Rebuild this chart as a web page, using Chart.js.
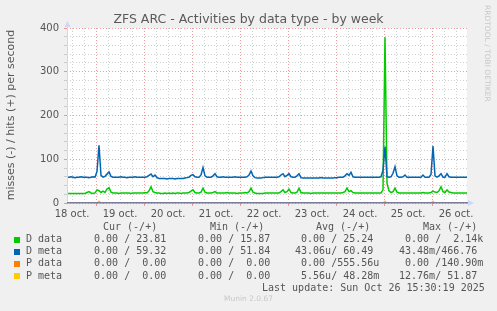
<!DOCTYPE html>
<html>
<head>
<meta charset="utf-8">
<title>ZFS ARC - Activities by data type - by week</title>
<script src="https://cdn.jsdelivr.net/npm/chart.js@4.4.1/dist/chart.umd.min.js"></script>
<style>
  html, body { margin: 0; padding: 0; background: #f0f0f0; }
  #wrap { position: relative; width: 497px; height: 311px; }
</style>
</head>
<body>
<div id="wrap"><canvas id="chart" width="497" height="311"></canvas></div>
<script>
// Day labels on the x axis (one label per day, placed at noon)
const dayLabels = ["18 oct.", "19 oct.", "20 oct.", "21 oct.", "22 oct.", "23 oct.", "24 oct.", "25 oct.", "26 oct."];

// Hits per second, one value per hour from the left edge of the plot
const dDataHits = [
  22,22,22,22,22,22,22,22,22,22,24,26,23,22,23,30,28,24,27,24,32,35,25,23,
  23,23,22,23,23,23,23,23,22,23,23,23,23,23,23,24,23,28,37,26,24,23,23,22,
  22,23,22,23,22,23,22,23,23,22,23,23,23,24,27,30,24,23,23,25,34,25,23,23,
  23,24,26,23,23,23,23,23,24,23,23,23,23,22,23,23,23,24,23,26,34,25,23,22,
  22,22,22,23,23,23,23,23,23,23,23,26,30,24,26,32,24,23,23,25,34,24,23,23,
  23,23,22,23,23,23,23,23,23,23,23,23,23,23,23,23,23,23,24,26,34,26,28,24,
  23,23,23,23,23,23,23,23,23,23,23,23,23,23,30,379,45,28,24,26,34,25,23,23,
  23,23,23,23,23,23,23,23,23,23,24,23,23,23,24,27,25,24,28,37,26,24,30,25,
  24,23,23,23,23,23,23,23,23
];

const dMetaHits = [
  59,59,60,59,58,59,59,60,59,59,59,58,59,60,59,72,132,63,59,61,66,71,61,59,
  59,59,59,60,59,59,58,59,59,59,60,59,59,59,59,59,60,63,66,60,64,58,56,56,
  56,56,55,56,56,56,55,56,56,56,56,57,58,59,63,65,60,59,59,64,81,62,59,59,
  59,62,67,60,59,59,60,59,59,59,59,59,60,59,59,59,59,59,60,64,73,62,58,57,
  57,57,58,59,59,59,59,59,59,59,60,64,67,60,63,67,60,59,59,62,67,58,57,57,
  57,57,57,57,57,57,57,58,57,57,57,57,57,57,58,58,59,59,59,62,67,63,70,60,
  59,59,59,59,59,59,59,59,59,59,59,59,59,60,75,129,60,59,60,68,83,62,59,59,
  60,64,59,59,59,59,59,59,59,59,64,59,59,59,65,130,62,59,62,67,59,59,67,60,
  59,59,59,59,59,59,59,59,59
];

// P data / P meta stay at zero apart from tiny blips
const pDataHours = [0, 200];
const pDataHits = [0, 0];
const pMetaHours = [0, 15, 16, 17, 158, 159, 160, 182, 183, 184, 200];
const pMetaHits = [0, 0, 4, 0, 0, 4, 0, 0, 4, 0, 0];

// Legend table
const seriesNames = ["D data", "D meta", "P data", "P meta"];
const seriesColors = ["#00cc00", "#0066b3", "#ff8000", "#ffcc00"];
const curCol = ["  0.00 / 23.81 ", "  0.00 / 59.32 ", "  0.00 /  0.00 ", "  0.00 /  0.00 "];
const minCol = ["  0.00 / 15.87 ", "  0.00 / 51.84 ", "  0.00 /  0.00 ", "  0.00 /  0.00 "];
const avgCol = ["  0.00 / 25.24 ", " 43.06u/ 60.49 ", "  0.00 /555.56u", "  5.56u/ 48.28m"];
const maxCol = ["  0.00 /  2.14k", " 43.48m/466.76 ", "  0.00 /140.90m", " 12.76m/ 51.87 "];

const GRID_MINOR = "rgba(195,195,195,0.8)";
const GRID_MAJOR = "rgba(235,120,120,0.75)";
const AXIS = "#cfd6f8";
const FONT = "#555555";

const toPoints = (xs, ys) => ys.map((y, i) => ({ x: xs[i], y: y }));
const hours = dMetaHits.map((_, i) => i);

const isNoon = (v) => Number.isInteger((v - 2.5) / 24);
const isMidnight = (v) => Number.isInteger((v - 14.5) / 24);

// White plot canvas, zero line, axis arrows and all rrdtool-style texts
const muninDecor = {
  id: "muninDecor",
  beforeDraw(chart) {
    const { ctx, chartArea: a } = chart;
    ctx.save();
    ctx.fillStyle = "#ffffff";
    ctx.fillRect(a.left, a.top, a.right - a.left, a.bottom - a.top);
    ctx.restore();
  },
  afterDatasetsDraw(chart) {
    const { ctx, chartArea: a } = chart;
    ctx.save();
    // y axis line up to the arrow
    ctx.strokeStyle = AXIS;
    ctx.lineWidth = 1;
    ctx.beginPath();
    ctx.moveTo(a.left + 0.5, a.bottom);
    ctx.lineTo(a.left + 0.5, a.top - 5);
    ctx.stroke();
    // zero line
    ctx.strokeStyle = "#7d7d9b";
    ctx.lineWidth = 1.5;
    ctx.beginPath();
    ctx.moveTo(a.left, a.bottom - 0.25);
    ctx.lineTo(a.right + 1, a.bottom - 0.25);
    ctx.stroke();
    // arrows
    ctx.fillStyle = AXIS;
    ctx.beginPath();
    ctx.moveTo(a.left + 0.5, a.top - 7);
    ctx.lineTo(a.left - 2.5, a.top - 1);
    ctx.lineTo(a.left + 3.5, a.top - 1);
    ctx.closePath();
    ctx.fill();
    ctx.beginPath();
    ctx.moveTo(a.right + 7, a.bottom);
    ctx.lineTo(a.right + 1, a.bottom - 3);
    ctx.lineTo(a.right + 1, a.bottom + 3);
    ctx.closePath();
    ctx.fill();
    ctx.restore();
  },
  afterDraw(chart) {
    const ctx = chart.ctx;
    ctx.save();
    ctx.textBaseline = "middle";

    // title
    ctx.fillStyle = "#5a5a5a";
    ctx.font = "12.5px 'DejaVu Sans'";
    ctx.textAlign = "center";
    ctx.fillText("ZFS ARC - Activities by data type - by week", 248.5, 20);

    // y axis label
    ctx.save();
    ctx.translate(11, 115);
    ctx.rotate(-Math.PI / 2);
    ctx.font = "11px 'DejaVu Sans'";
    ctx.fillStyle = FONT;
    ctx.fillText("misses (-) / hits (+) per second", 0, 0);
    ctx.restore();

    // watermark on the right
    ctx.save();
    ctx.translate(487, 5);
    ctx.rotate(Math.PI / 2);
    ctx.textAlign = "left";
    ctx.font = "7.5px 'DejaVu Sans'";
    ctx.fillStyle = "#c8c8c8";
    ctx.fillText("RRDTOOL / TOBI OETIKER", 0, 0);
    ctx.restore();

    // legend table
    ctx.font = "10px 'DejaVu Sans Mono'";
    ctx.fillStyle = FONT;
    ctx.textAlign = "left";
    const headY = 227.5;
    ctx.fillText("Cur (-/+)", 103, headY);
    ctx.fillText("Min (-/+)", 210, headY);
    ctx.fillText("Avg (-/+)", 316, headY);
    ctx.fillText("Max (-/+)", 423, headY);

    seriesNames.forEach((name, i) => {
      const y = 239.5 + i * 12.2;
      ctx.fillStyle = seriesColors[i];
      ctx.fillRect(14, Math.round(y) - 3, 6, 6);
      ctx.fillStyle = FONT;
      ctx.fillText(name, 26, y);
      ctx.fillText(curCol[i], 82, y);
      ctx.fillText(minCol[i], 186, y);
      ctx.fillText(avgCol[i], 289, y);
      ctx.fillText(maxCol[i], 393, y);
    });
    ctx.fillText("Last update: Sun Oct 26 15:30:19 2025", 262, 288.5);

    // footer
    ctx.textAlign = "center";
    ctx.font = "7.5px 'DejaVu Sans'";
    ctx.fillStyle = "#c8c8c8";
    ctx.fillText("Munin 2.0.67", 248.5, 299.5);
    ctx.restore();
  }
};

const lineStyle = {
  borderWidth: 1.5,
  pointRadius: 0,
  tension: 0,
  fill: false,
};

new Chart(document.getElementById("chart").getContext("2d"), {
  type: "line",
  data: {
    datasets: [
      { label: "P meta", data: toPoints(pMetaHours, pMetaHits), borderColor: seriesColors[3], order: 0, ...lineStyle },
      { label: "P data", data: toPoints(pDataHours, pDataHits), borderColor: seriesColors[2], order: 1, ...lineStyle },
      { label: "D meta", data: toPoints(hours, dMetaHits), borderColor: seriesColors[1], order: 2, ...lineStyle },
      { label: "D data", data: toPoints(hours, dDataHits), borderColor: seriesColors[0], order: 3, ...lineStyle },
    ],
  },
  options: {
    responsive: false,
    animation: false,
    devicePixelRatio: 1,
    events: [],
    layout: { padding: { left: 40, right: 30, top: 28, bottom: 88 } },
    plugins: {
      legend: { display: false },
      tooltip: { enabled: false },
    },
    scales: {
      x: {
        type: "linear",
        min: 0,
        max: 200,
        afterBuildTicks: (scale) => {
          const ticks = [];
          for (let h = 2.5; h <= 200; h += 6) ticks.push({ value: h });
          scale.ticks = ticks;
        },
        afterFit: (scale) => { scale.height = 20; },
        grid: {
          color: (c) => (c.tick && isMidnight(c.tick.value) ? GRID_MAJOR : GRID_MINOR),
          tickColor: (c) => (c.tick && isMidnight(c.tick.value) ? GRID_MAJOR : "rgba(0,0,0,0)"),
          tickLength: 3,
          lineWidth: 1,
        },
        border: { display: false, dash: [1, 2] },
        ticks: {
          autoSkip: false,
          maxRotation: 0,
          padding: 2,
          color: FONT,
          font: { family: "DejaVu Sans", size: 10 },
          callback: (v) => (isNoon(v) ? dayLabels[(v - 2.5) / 24] : ""),
        },
      },
      y: {
        min: 0,
        max: 400,
        afterFit: (scale) => { scale.width = 27; },
        grid: {
          color: (c) => (c.tick && c.tick.value % 100 === 0 ? GRID_MAJOR : GRID_MINOR),
          tickColor: (c) => (c.tick && c.tick.value % 100 === 0 ? GRID_MAJOR : GRID_MINOR),
          tickLength: 3,
          lineWidth: 1,
        },
        border: { display: false, dash: [1, 2] },
        ticks: {
          stepSize: 20,
          autoSkip: false,
          padding: 5,
          color: FONT,
          font: { family: "DejaVu Sans", size: 10 },
          callback: (v) => (v % 100 === 0 ? String(v) : ""),
        },
      },
    },
  },
  plugins: [muninDecor],
});
</script>
</body>
</html>
